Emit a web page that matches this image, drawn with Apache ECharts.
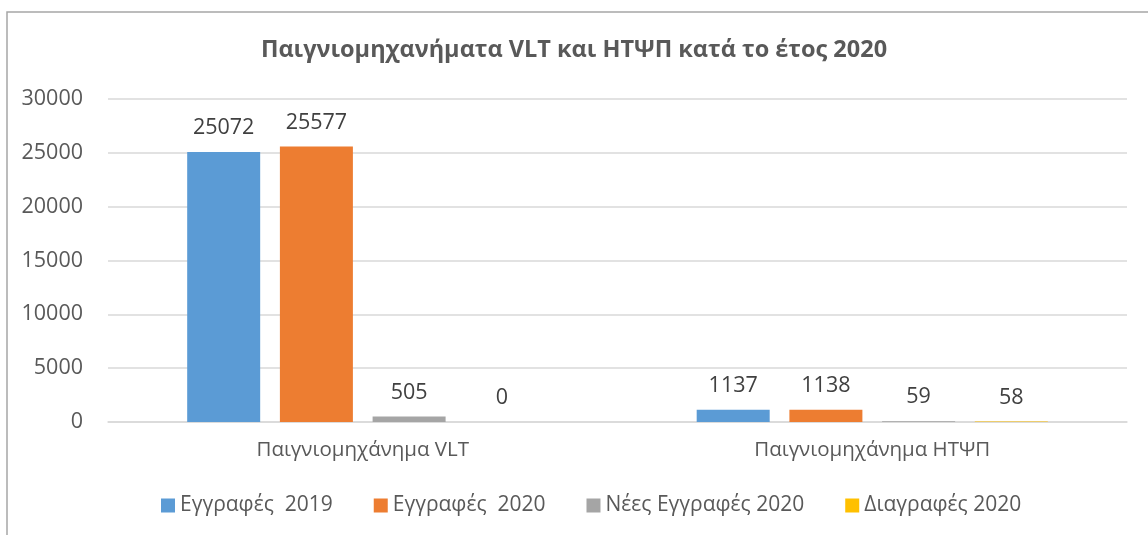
<!DOCTYPE html>
<html>
<head>
<meta charset="utf-8">
<script src="https://cdn.jsdelivr.net/npm/echarts@6/dist/echarts.min.js"></script>
<style>
  html, body { margin: 0; padding: 0; background: #fff; }
  #chart { width: 1148px; height: 535px; }
</style>
</head>
<body>
<div id="chart"></div>
<script>
// δεδομένα
var categories = ['Παιγνιομηχάνημα VLT', 'Παιγνιομηχάνημα ΗΤΨΠ'];
var seriesNames = ['Εγγραφές  2019', 'Εγγραφές  2020', 'Νέες Εγγραφές 2020', 'Διαγραφές 2020'];
var reg2019 = [25072, 1137];
var reg2020 = [25577, 1138];
var new2020 = [505, 59];
var del2020 = [0, 58];
var yTicks = [0, 5000, 10000, 15000, 20000, 25000, 30000];

var colors = ['#5B9BD5', '#ED7D31', '#A5A5A5', '#FFC000'];
var font = 'Open Sans';
var txt = '#595959';

var chart = echarts.init(document.getElementById('chart'));

function bar(name, data, i) {
  return {
    name: name,
    type: 'bar',
    data: data,
    barWidth: 73,
    barGap: '27%',
    itemStyle: { color: colors[i] },
    label: {
      show: true,
      position: 'top',
      distance: 13,
      color: '#404040',
      fontSize: 21.5,
      fontFamily: font
    }
  };
}

chart.setOption({
  animation: false,
  color: colors,
  graphic: [{
    type: 'rect',
    shape: { x: 7, y: 12, width: 1200, height: 600 },
    style: { fill: 'none', stroke: '#A6A6A6', lineWidth: 1.5 },
    silent: true
  }],
  title: {
    text: 'Παιγνιομηχανήματα VLT και ΗΤΨΠ κατά το έτος 2020',
    left: 'center',
    top: 33,
    textStyle: { fontFamily: font, fontSize: 23.5, fontWeight: 'bold', color: txt }
  },
  legend: {
    bottom: 14,
    left: 156,
    itemWidth: 14,
    itemHeight: 14,
    itemGap: 41,
    icon: 'rect',
    textStyle: { fontFamily: font, fontSize: 21, color: txt },
    data: seriesNames
  },
  grid: { left: 108, right: 21, top: 99, bottom: 113 },
  xAxis: {
    type: 'category',
    data: categories,
    axisTick: { show: false },
    axisLine: { lineStyle: { color: '#D9D9D9', width: 1.5 } },
    axisLabel: { fontFamily: font, fontSize: 20.5, color: txt, margin: 18 }
  },
  yAxis: {
    type: 'value',
    min: yTicks[0],
    max: yTicks[yTicks.length - 1],
    interval: 5000,
    axisLine: { show: false },
    axisTick: { show: false },
    splitLine: { lineStyle: { color: '#D9D9D9', width: 1.5 } },
    axisLabel: {
      fontFamily: font, fontSize: 21.5, color: txt, margin: 25,
      formatter: function (v) { return String(v); }
    }
  },
  series: [
    bar(seriesNames[0], reg2019, 0),
    bar(seriesNames[1], reg2020, 1),
    bar(seriesNames[2], new2020, 2),
    bar(seriesNames[3], del2020, 3)
  ]
});
</script>
</body>
</html>
